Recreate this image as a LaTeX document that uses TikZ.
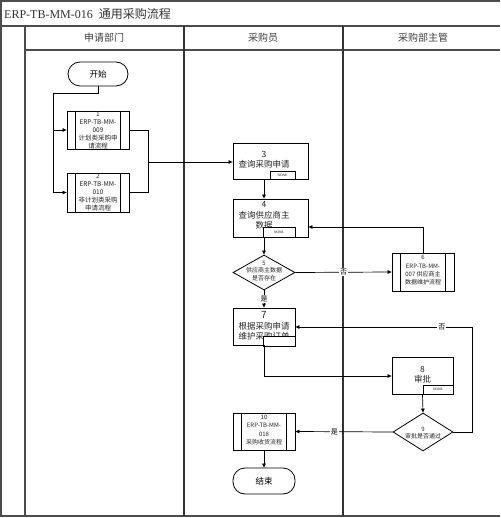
\documentclass[tikz,border=0pt]{standalone}
\usepackage{fontspec}
\setmainfont{Liberation Serif}
\newfontfamily\cjk{Noto Sans CJK SC}
\usetikzlibrary{arrows.meta,shapes.geometric}
\tikzset{
  frameline/.style={draw=black!70, line width=1.4pt},
  laneline/.style={draw=black!80, line width=1.1pt},
  flow/.style={draw=black, line width=0.7pt},
  arr/.style={flow, -{Triangle[length=4pt,width=3.5pt]}},
  box/.style={draw=black, line width=0.8pt, rectangle, inner sep=0pt, fill=white},
  pill/.style={box, rounded corners=12pt},
  predef/.style={box, path picture={
     \draw[line width=0.6pt] ([xshift=8.5pt]path picture bounding box.north west) -- ([xshift=8.5pt]path picture bounding box.south west);
     \draw[line width=0.6pt] ([xshift=-8.5pt]path picture bounding box.north east) -- ([xshift=-8.5pt]path picture bounding box.south east);}},
  dia/.style={draw=black, line width=0.8pt, diamond, inner sep=0pt, fill=white},
  tag/.style={draw=black, line width=0.6pt, rectangle, inner sep=0pt, font=\fontsize{3.5}{4}\selectfont, fill=white},
  txt/.style={align=center, inner sep=0pt, text=black!85},
  lbl/.style={fill=white, inner sep=1pt, font=\cjk\fontsize{7}{8}\selectfont},
  hdr/.style={inner sep=0pt, text=black!75, font=\cjk\fontsize{10}{12}\selectfont},
}
\begin{document}
\begin{tikzpicture}[x=1pt,y=-1pt]
\useasboundingbox (0,0) rectangle (500,518);
% frame
\draw[frameline] (0,1) -- (500,1);
\draw[frameline] (0,26) -- (500,26);
\draw[frameline] (25,50) -- (500,50);
\draw[frameline] (0,516) -- (500,516);
\draw[frameline] (1,1) -- (1,516);
\draw[frameline] (25,26) -- (25,516);
\draw[laneline] (184,26) -- (184,516);
\draw[laneline] (343,26) -- (343,516);
% title and headers
\node[anchor=west, inner sep=0pt, text=black!80] (title) at (4,13.5) {\fontsize{12}{14}\selectfont ERP-TB-MM-016\ \ {\cjk 通用采购流程}};
\node[hdr] (h1) at (104,38) {申请部门};
\node[hdr] (h2) at (263,38) {采购员};
\node[hdr] (h3) at (423,38) {采购部主管};
% nodes
\node[pill, minimum width=60pt, minimum height=24pt, font=\cjk\fontsize{8.5}{10}\selectfont] (start) at (98,74) {开始};
\node[predef, minimum width=62pt, minimum height=38pt] (b1) at (98,130) {};
\node[txt, font=\cjk\fontsize{6.5}{8}\selectfont] (t1) at (98,130) {1\\ERP-TB-MM-\\009\\计划类采购申\\请流程};
\node[predef, minimum width=62pt, minimum height=39pt] (b2) at (98,192.5) {};
\node[txt, font=\cjk\fontsize{6.5}{8}\selectfont] (t2) at (98,192.5) {2\\ERP-TB-MM-\\010\\非计划类采购\\申请流程};
\node[box, minimum width=75pt, minimum height=36pt] (b3) at (270.5,161) {};
\node[tag, minimum width=25pt, minimum height=8pt] (n3) at (282.5,175) {NONE};
\node[txt, font=\cjk\fontsize{8.5}{10.5}\selectfont] (t3) at (264,160) {3\\查询采购申请};
\node[box, minimum width=75pt, minimum height=38pt] (b4) at (270.5,218) {};
\node[txt, font=\cjk\fontsize{8.5}{10.5}\selectfont] (t4) at (264,215.5) {4\\查询供应商主\\数据};
\node[tag, minimum width=32pt, minimum height=10pt] (n4) at (279,232) {NONE};
\node[dia, minimum width=62pt, minimum height=35pt, aspect=1.77] (d5) at (264,272.5) {};
\node[txt, font=\cjk\fontsize{6}{7.5}\selectfont] (t5) at (264,271) {5\\供应商主数据\\是否存在};
\node[predef, minimum width=62pt, minimum height=38pt] (b6) at (423,272) {};
\node[txt, font=\cjk\fontsize{6}{8.3}\selectfont] (t6) at (423,270.5) {6\\ERP-TB-MM-\\007 供应商主\\数据维护流程};
\node[box, minimum width=62pt, minimum height=37pt] (b7) at (264,326.5) {};
\node[txt, font=\cjk\fontsize{8.5}{10.5}\selectfont] (t7) at (264,326) {{\fontsize{10}{10}\selectfont 7}\\根据采购申请\\维护采购订单};
\node[tag, minimum width=32pt, minimum height=10pt] (n7) at (279,341) {};
\node[box, minimum width=61pt, minimum height=37pt] (b8) at (422.5,375.5) {};
\node[txt, font=\cjk\fontsize{8.5}{10}\selectfont] (t8) at (422.5,375) {8\\审批};
\node[tag, minimum width=30pt, minimum height=9pt] (n8) at (438,389.5) {NONE};
\node[dia, minimum width=60pt, minimum height=38pt, aspect=1.58] (d9) at (423,432) {};
\node[txt, font=\cjk\fontsize{6}{7.5}\selectfont] (t9) at (423,433) {9\\审批是否通过};
\node[predef, minimum width=62pt, minimum height=37pt] (b10) at (264,431.5) {};
\node[txt, font=\cjk\fontsize{6}{8.5}\selectfont] (t10) at (264,430) {10\\ERP-TB-MM-\\018\\采购收货流程};
\node[pill, minimum width=62pt, minimum height=26pt, font=\cjk\fontsize{8.5}{10}\selectfont] (end) at (264,481) {结束};
% helper coordinates
\coordinate (c1) at (98,93);
\coordinate (c2) at (53,93);
\coordinate (c3) at (53,130);
\coordinate (c4) at (53,192.5);
\coordinate (c5) at (148,130);
\coordinate (c6) at (148,192.5);
\coordinate (c7) at (148,162);
\coordinate (c8) at (423,227);
\coordinate (c9) at (264,376);
\coordinate (c10) at (472,432);
\coordinate (c11) at (472,327);
% connectors
\draw[flow] (start.south) -- (c1) -- (c2) -- (c4);
\draw[arr] (c3) -- (b1.west);
\draw[arr] (c4) -- (b2.west);
\draw[flow] (b1.east) -- (c5) -- (c6) -- (b2.east);
\draw[arr] (c7) -- (c7 -| b3.west);
\draw[arr] (t3.south |- b3.south) -- (t3.south |- b4.north);
\draw[arr] (b6.north) -- (c8) -- (c8 -| b4.east);
\draw[arr] (t3.south |- b4.south) -- (d5.north);
\draw[arr] (d5.east) -- node[lbl, pos=0.5] {否} (b6.west);
\draw[arr] (d5.south) -- node[lbl, pos=0.5, inner sep=0.5pt] {是} (b7.north);
\draw[arr] (b7.south) -- (c9) -- (c9 -| b8.west);
\draw[arr] (b8.south) -- (d9.north);
\draw[arr] (d9.east) -- (c10) -- (c11) -- node[lbl, pos=0.17] {否} (c11 -| b7.east);
\draw[arr] (d9.west) -- node[lbl, pos=0.6] {是} (b10.east);
\draw[arr] (b10.south) -- (end.north);
\end{tikzpicture}
\end{document}
